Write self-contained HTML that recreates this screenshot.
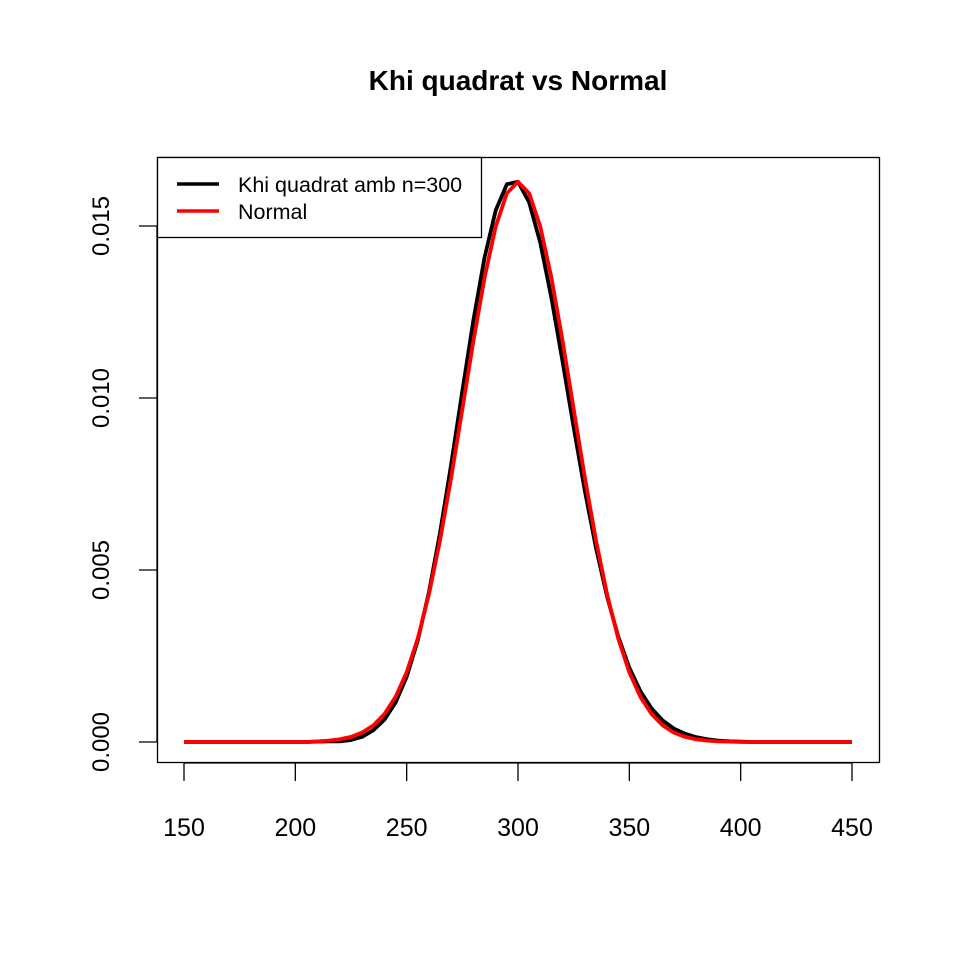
<!DOCTYPE html>
<html><head><meta charset="utf-8"><style>
body{margin:0;background:#fff;}
svg{display:block;font-family:"Liberation Sans",sans-serif;}
</style></head><body>
<svg width="960" height="960">
<text x="518" y="90" text-anchor="middle" font-size="28" font-weight="bold">Khi quadrat vs Normal</text>
<rect x="157.5" y="157.5" width="722" height="605" fill="none" stroke="#000" stroke-width="1.3"/>
<g id="xaxis"></g>
<g id="yaxis"></g>
<g id="series"></g>
<g>
<rect x="157.5" y="157.5" width="324" height="80" fill="#fff" stroke="#000" stroke-width="1.3"/>
<line x1="177" y1="184" x2="219" y2="184" stroke="#000" stroke-width="3.5"/>
<text x="238" y="192" font-size="21.5">Khi quadrat amb n=300</text>
<line x1="177" y1="211" x2="219" y2="211" stroke="#f00" stroke-width="3.5"/>
<text x="238" y="219" font-size="21.5">Normal</text>
</g>
</svg>
<script>
const xs = [150,155,160,165,170,175,180,185,190,195,200,205,210,215,220,225,230,235,240,245,250,255,260,265,270,275,280,285,290,295,300,305,310,315,320,325,330,335,340,345,350,355,360,365,370,375,380,385,390,395,400,405,410,415,420,425,430,435,440,445,450];
const khiValues = [0,0,0,0,0,0,0,0,0,0,0,0,0.00001,0.00002,0.00002,0.00006,0.00015,0.000342,0.000649,0.001145,0.001897,0.002956,0.004357,0.006087,0.008078,0.010201,0.012275,0.014092,0.015457,0.016213,0.016287,0.01569,0.014513,0.012912,0.011066,0.009149,0.007308,0.005649,0.004229,0.00307,0.002159,0.001473,0.000973,0.000622,0.00039,0.00024,0.00014,0.00008,0.00004,0.00002,0.00001,0,0,0,0,0,0,0,0,0,0];
const normalValues = [0,0,0,0,0,0,0,0,0,0,0,0,0.000019,0.0000396,0.0000787,0.00015,0.000274,0.000482,0.000811,0.001309,0.002028,0.003013,0.004293,0.005868,0.007693,0.009675,0.01167,0.013502,0.014985,0.015951,0.016287,0.015951,0.014985,0.013502,0.01167,0.009675,0.007693,0.005868,0.004293,0.003013,0.002028,0.001309,0.000811,0.000482,0.000274,0.00015,0.0000787,0.0000396,0.000019,0.00001,0,0,0,0,0,0,0,0,0,0,0];
const xTicks = [150,200,250,300,350,400,450];
const yTicks = [0,0.005,0.010,0.015];
const yTickLabels = ["0.000","0.005","0.010","0.015"];

const NS="http://www.w3.org/2000/svg";
const X = v => 184 + (v-150)*(852-184)/300;
const Y = v => 742 - v*(742-226)/0.015;
function mk(tag, attrs, parent){const e=document.createElementNS(NS,tag);for(const k in attrs)e.setAttribute(k,attrs[k]);parent.appendChild(e);return e;}

const xa=document.getElementById('xaxis');
let ax=mk('line',{x1:X(150),x2:X(450),y1:763,y2:763,stroke:'#000','stroke-width':1.3},xa);


xTicks.forEach(t=>{
  const l=mk('line',{x1:X(t),x2:X(t),y1:763,y2:781,stroke:'#000','stroke-width':1.3},xa);
  
  
  const tx=mk('text',{x:X(t),y:836,'text-anchor':'middle','font-size':25},xa);
  tx.textContent=t;
  
  
});
const ya=document.getElementById('yaxis');
let ay=mk('line',{x1:157,x2:157,y1:Y(0),y2:Y(0.015),stroke:'#000','stroke-width':1.3},ya);


yTicks.forEach((t,i)=>{
  const l=mk('line',{x1:139,x2:157,y1:Y(t),y2:Y(t),stroke:'#000','stroke-width':1.3},ya);
  
  
  const tx=mk('text',{x:0,y:0,'text-anchor':'middle','font-size':24,transform:`translate(109,${Y(t)}) rotate(-90)`},ya);
  tx.textContent=yTickLabels[i];
  
  
});
const sg=document.getElementById('series');
function line(vals,color,name){
  const d=vals.map((v,i)=>(i?'L':'M')+X(xs[i]).toFixed(2)+','+Y(v).toFixed(2)).join('');
  const p=mk('path',{d:d,fill:'none',stroke:color,'stroke-width':3.8,'stroke-linejoin':'round'},sg);
  
  
}
line(khiValues,'#000','khi-quadrat-line');
line(normalValues,'#f00','normal-line');
</script>
</body></html>
